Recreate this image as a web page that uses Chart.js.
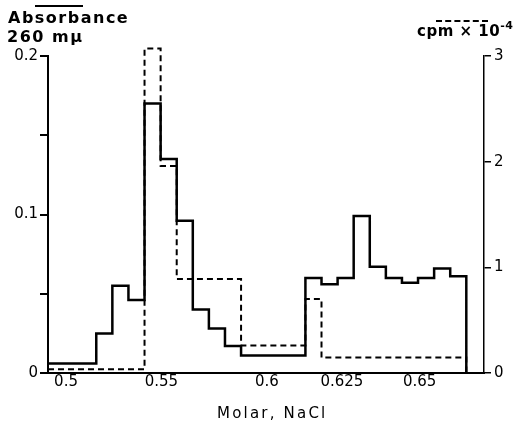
<!DOCTYPE html>
<html>
<head>
<meta charset="utf-8">
<title>Absorbance and cpm vs Molar NaCl</title>
<script src="https://cdn.jsdelivr.net/npm/chart.js@4/dist/chart.umd.min.js"></script>
<style>
  html, body { margin: 0; padding: 0; background: #fff; }
  #wrap { position: relative; width: 519px; height: 423px; overflow: hidden; }
  #chart { position: absolute; left: 0; top: 0; }
  .lbl { position: absolute; font-family: "DejaVu Sans", sans-serif; color: #000; line-height: 1; white-space: nowrap; }
  .head { font-size: 16px; font-weight: bold; letter-spacing: 1.5px; }
  .rule { position: absolute; height: 0; }
  sup { font-size: 11px; vertical-align: 0; position: relative; top: -7px; }
</style>
</head>
<body>
<div id="wrap">
  <canvas id="chart" width="519" height="423"></canvas>
  <div class="rule" style="left:35px; top:5px; width:48px; border-top:2px solid #000;"></div>
  <div class="lbl head" style="left:8px; top:10px;">Absorbance</div>
  <div class="lbl head" style="left:7px; top:29px;">260 mμ</div>
  <div class="rule" style="left:436px; top:20px; width:52px; border-top:2px dashed #000;"></div>
  <div class="lbl head" style="left:417px; top:24px; font-size:15px; letter-spacing:0.5px;">cpm × 10<sup>-4</sup></div>
  <div class="lbl" style="left:217px; top:406px; font-size:15px; letter-spacing:2.2px;">Molar, NaCl</div>
</div>
<script>
/* fraction index runs 0..26, one step per tube */
const absorbance = [0.006, 0.006, 0.006, 0.025, 0.055, 0.046, 0.170, 0.135, 0.096, 0.040, 0.028, 0.017, 0.011,
  0.011, 0.011, 0.011, 0.060, 0.056, 0.060, 0.099, 0.067, 0.060, 0.057, 0.060, 0.066, 0.061];
const cpm = [0.035, 0.035, 0.035, 0.035, 0.035, 0.035, 3.07, 1.96, 0.89, 0.89, 0.89, 0.89, 0.26,
  0.26, 0.26, 0.26, 0.70, 0.146, 0.146, 0.146, 0.146, 0.146, 0.146, 0.146, 0.146, 0.146];

// Molar NaCl labels along the fraction axis (not evenly spaced in the original)
const xTickPos = [1.12, 7.05, 13.6, 18.27, 23.1];
const xTickLabels = ["0.5", "0.55", "0.6", "0.625", "0.65"];
const leftTickLabels = { "0.00": "0", "0.10": "0.1", "0.20": "0.2" };
const rightTicks = ["0", "1", "2", "3"];

function steps(vals) {
  // stepped line: each value holds from its index to the next, last one drops to 0
  return vals.map((v, i) => ({ x: i, y: v })).concat({ x: vals.length, y: 0 });
}

const font = { family: "DejaVu Sans", size: 15 };

new Chart(document.getElementById("chart"), {
  type: "line",
  data: {
    datasets: [
      {
        label: "cpm x 10^-4",
        data: steps(cpm),
        yAxisID: "y2",
        stepped: true,
        borderColor: "#000",
        borderWidth: 2,
        borderDash: [6, 4],
        pointRadius: 0,
        clip: false,
      },
      {
        label: "Absorbance 260 mμ",
        data: steps(absorbance),
        yAxisID: "y",
        stepped: true,
        borderColor: "#000",
        borderWidth: 2.5,
        pointRadius: 0,
        clip: false,
      },
    ],
  },
  options: {
    responsive: false,
    animation: false,
    devicePixelRatio: 1,
    layout: { padding: { top: 56, left: 0, right: 0, bottom: 0 } },
    plugins: { legend: { display: false }, tooltip: { enabled: false } },
    scales: {
      x: {
        type: "linear",
        min: 0,
        max: 27.1,
        grid: { display: false, drawTicks: false },
        border: { display: true, color: "#000", width: 2 },
        afterBuildTicks: (s) => {
          s.ticks = xTickPos.map((v) => ({ value: v }));
        },
        afterFit: (s) => {
          s.height = 50;
        },
        ticks: {
          autoSkip: false,
          maxRotation: 0,
          padding: 0,
          color: "#000",
          font: font,
          callback: (v, i) => xTickLabels[i],
        },
      },
      y: {
        position: "left",
        min: 0,
        max: 0.2,
        grid: { drawOnChartArea: false, color: "#000", lineWidth: 2, tickLength: 8 },
        border: { color: "#000", width: 2 },
        afterFit: (s) => {
          s.width = 48;
        },
        ticks: {
          stepSize: 0.05,
          autoSkip: false,
          padding: 2,
          color: "#000",
          font: font,
          callback: (v) => leftTickLabels[v.toFixed(2)] || "",
        },
      },
      y2: {
        position: "right",
        min: 0,
        max: 3,
        grid: { drawOnChartArea: false, color: "#000", lineWidth: 1.5, tickLength: 7 },
        border: { color: "#000", width: 1.5 },
        afterFit: (s) => {
          s.width = 35;
        },
        ticks: {
          stepSize: 1,
          autoSkip: false,
          padding: 3,
          color: "#000",
          font: font,
          callback: (v) => rightTicks[v],
        },
      },
    },
  },
});
</script>
</body>
</html>
